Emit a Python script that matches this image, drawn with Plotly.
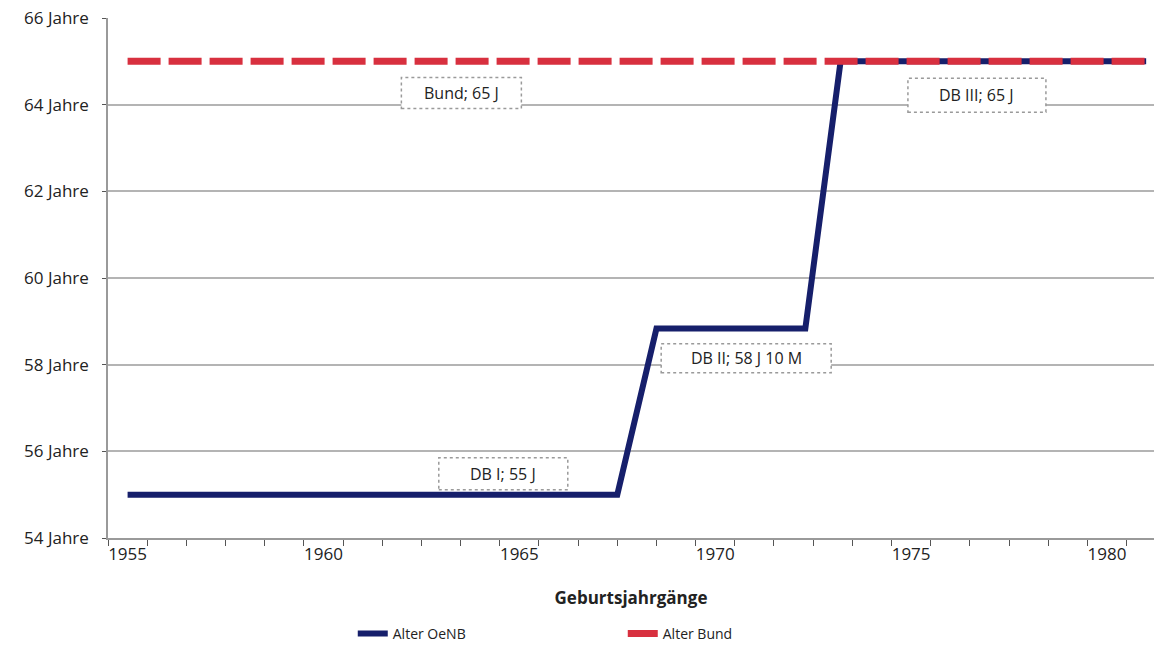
import plotly.graph_objects as go

# Pension age by birth cohort
oenb_years = [1955, 1967.5, 1968.5, 1972.3, 1973.2, 1981]
oenb_age = [55, 55, 58.833, 58.833, 65, 65]

bund_years = [1955, 1981]
bund_age = [65, 65]

y_ticks = [54, 56, 58, 60, 62, 64, 66]
y_labels = [f"{v} Jahre" for v in y_ticks]
x_ticks = [1955, 1960, 1965, 1970, 1975, 1980]

# Boxed labels: text, x, y, box width, box height (px)
labels = [
    ("Bund; 65 J", 1963.52, 64.27, 120, 31),
    ("DB III; 65 J", 1976.68, 64.22, 138, 34),
    ("DB II; 58 J 10 M", 1970.79, 58.15, 170, 29),
    ("DB I; 55 J", 1964.59, 55.48, 129, 32),
]

NAVY = "#161f6b"
RED = "#d8303f"
FONT = "Open Sans"

fig = go.Figure()
fig.add_trace(go.Scatter(
    x=oenb_years, y=oenb_age, mode="lines", name="Alter OeNB",
    line=dict(color=NAVY, width=6),
))
fig.add_trace(go.Scatter(
    x=bund_years, y=bund_age, mode="lines", name="Alter Bund",
    line=dict(color=RED, width=7, dash="33px,8px"),
))

for text, x, y, w, h in labels:
    fig.add_shape(
        type="rect", xref="x", yref="y", xsizemode="pixel", ysizemode="pixel",
        xanchor=x, yanchor=y, x0=-w / 2, x1=w / 2, y0=-h / 2, y1=h / 2,
        line=dict(color="#9a9a9a", width=1.5, dash="dot"), fillcolor="white",
        layer="above",
    )
    fig.add_annotation(
        x=x, y=y, text=text, showarrow=False,
        font=dict(family=FONT, size=16, color="#222"),
    )

fig.update_layout(
    width=1154, height=650,
    margin=dict(l=108, r=0, t=18, b=112),
    paper_bgcolor="white", plot_bgcolor="white",
    font=dict(family=FONT, size=17, color="#222"),
    showlegend=True,
    legend=dict(
        orientation="h", x=0.234, y=-0.185, xanchor="left", yanchor="middle",
        entrywidth=225, entrywidthmode="pixels",
        font=dict(family=FONT, size=14, color="#222"),
    ),
    xaxis=dict(
        range=[1954.5, 1981.2], tickvals=x_ticks, ticks="",
        showgrid=False, zeroline=False,
        showline=True, linecolor="#9a9a9a", linewidth=1.5,
        tickfont=dict(size=17),
        minor=dict(tickvals=[1954.5 + i for i in range(27)], ticks="outside",
                   ticklen=6, tickcolor="#555", showgrid=False),
        title=dict(text="<b>Geburtsjahrgänge</b>", font=dict(size=17), standoff=28),
    ),
    yaxis=dict(
        range=[54, 66], tickvals=y_ticks, ticktext=y_labels,
        ticks="outside", ticklen=4, tickcolor="#555", ticklabelstandoff=10,
        showgrid=True, gridcolor="#b4b4b4", gridwidth=1.5, zeroline=False,
        showline=True, linecolor="#9a9a9a", linewidth=1.5,
        tickfont=dict(size=17),
    ),
)

fig.write_html("out.html")
